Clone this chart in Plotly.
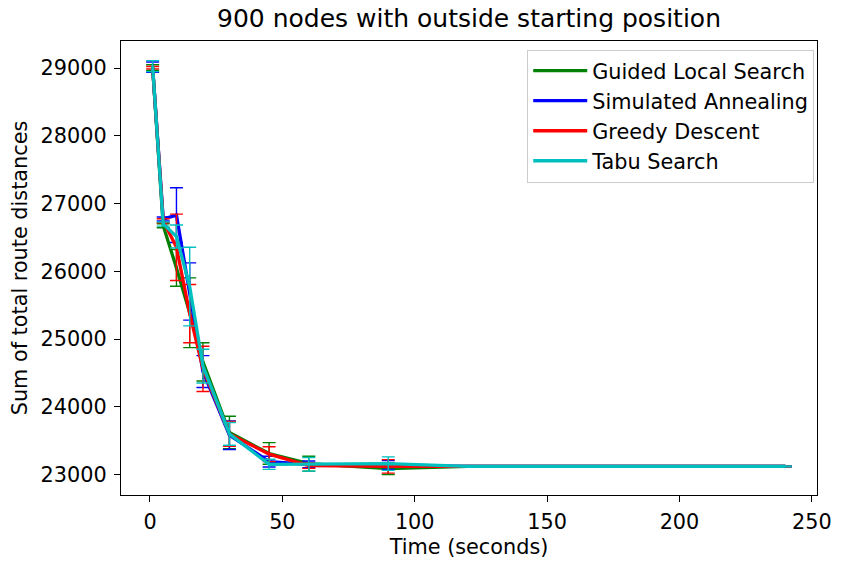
import plotly.graph_objects as go

time_s = [1, 5, 10, 15, 20, 30, 45, 60, 90, 120, 240]

gls_mean = [29010, 26673, 26050, 25388, 24663, 23620, 23310, 23160, 23085, 23120, 23120]
gls_err = [40, 30, 270, 515, 283, 240, 160, 110, 85, 5, 5]

sa_mean = [29016, 26772, 26830, 25702, 24520, 23580, 23190, 23150, 23140, 23120, 23120]
sa_err = [76, 30, 405, 423, 235, 212, 80, 50, 65, 5, 5]

gd_mean = [29007, 26747, 26355, 25376, 24560, 23600, 23300, 23130, 23120, 23120, 23120]
gd_err = [17, 30, 490, 430, 334, 183, 110, 40, 100, 5, 5]

ts_mean = [29030, 26698, 26514, 25775, 24600, 23600, 23150, 23150, 23160, 23120, 23120]
ts_err = [81, 30, 169, 580, 250, 168, 75, 100, 100, 5, 5]

series = [
    ("Guided Local Search", gls_mean, gls_err, "#008000"),
    ("Simulated Annealing", sa_mean, sa_err, "#0000ff"),
    ("Greedy Descent", gd_mean, gd_err, "#ff0000"),
    ("Tabu Search", ts_mean, ts_err, "#00bfbf"),
]

FONT = "DejaVu Sans"
FS = 20.8

fig = go.Figure()
for name, m, e, c in series:
    fig.add_trace(go.Scatter(
        x=time_s, y=m, name=name, mode="lines",
        line=dict(color=c, width=3.3),
        error_y=dict(type="data", array=e, visible=True, color=c,
                     thickness=1.4, width=6.5),
    ))

axis_common = dict(
    showline=True, linecolor="black", linewidth=1.3, mirror=True,
    ticks="outside", ticklen=6, tickwidth=1.3, tickcolor="black",
    showgrid=False, zeroline=False,
    tickfont=dict(family=FONT, size=FS, color="black"),
)

fig.update_layout(
    width=844, height=567,
    paper_bgcolor="white", plot_bgcolor="white",
    margin=dict(l=121, r=20, t=41, b=70),
    title=dict(text="900 nodes with outside starting position",
               font=dict(family=FONT, size=25, color="black"),
               x=0.5, xanchor="center", xref="paper",
               y=1 - 18 / 567, yanchor="middle", yref="container"),
    xaxis=dict(range=[-10.95, 251.95], tickvals=[0, 50, 100, 150, 200, 250],
               ticklabelstandoff=2,
               title=dict(text="Time (seconds)", standoff=6,
                          font=dict(family=FONT, size=FS, color="black")),
               **axis_common),
    yaxis=dict(range=[22697, 29401],
               tickvals=[23000, 24000, 25000, 26000, 27000, 28000, 29000],
               tickformat="d", ticklabelstandoff=3,
               title=dict(text="Sum of total route distances", standoff=7,
                          font=dict(family=FONT, size=FS, color="black")),
               **axis_common),
    legend=dict(x=0.996, y=0.981, xanchor="right", yanchor="top",
                bgcolor="rgba(255,255,255,0.8)", bordercolor="#cccccc",
                borderwidth=1, itemwidth=54,
                font=dict(family=FONT, size=FS, color="black")),
    showlegend=True,
)

fig.write_html("out.html")
